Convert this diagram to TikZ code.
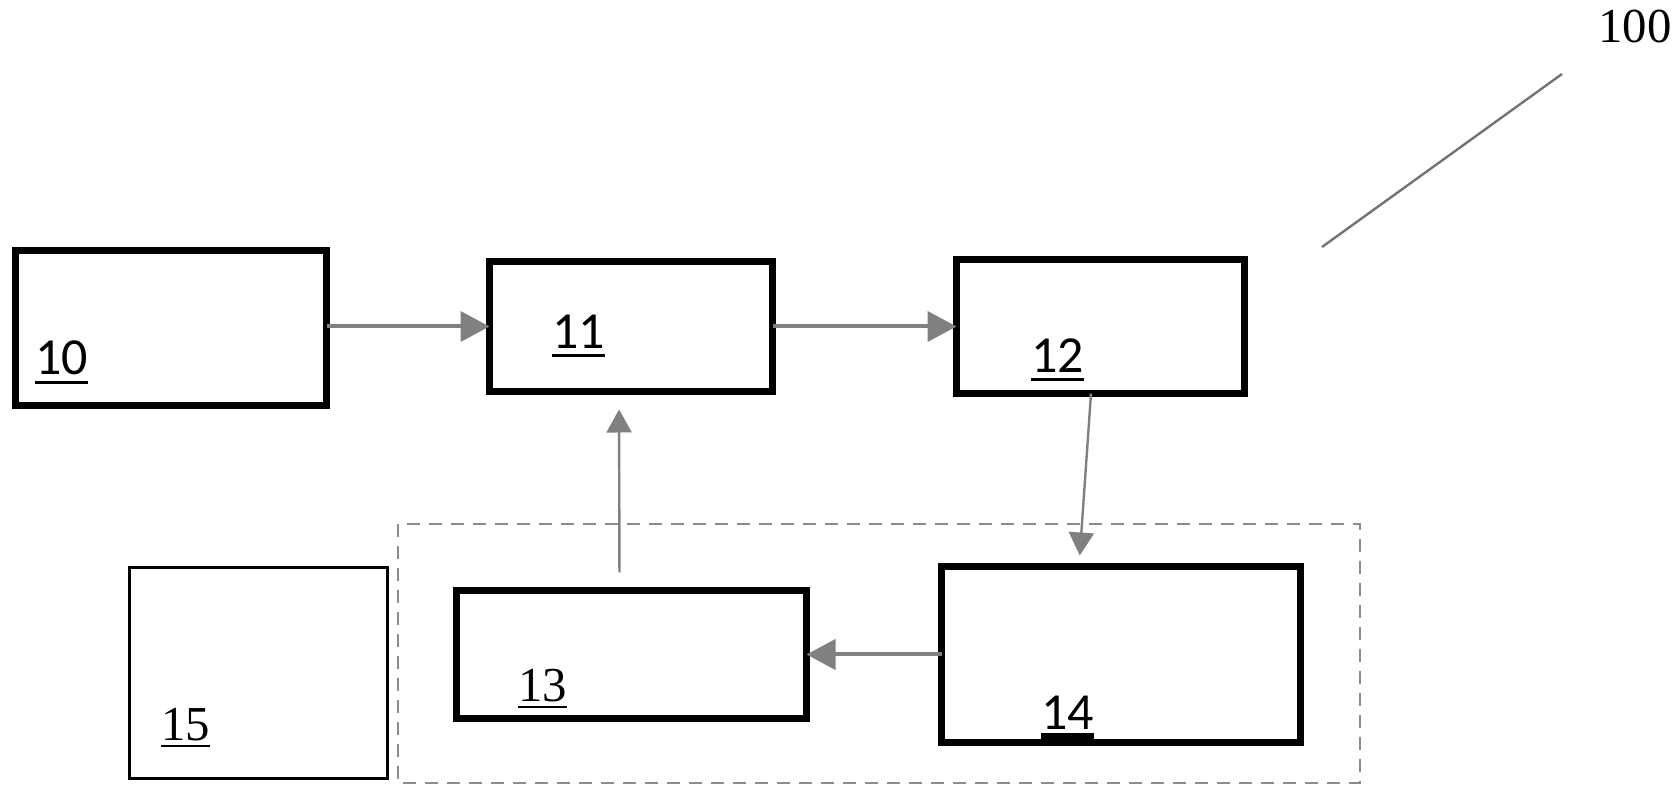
\documentclass[tikz,border=0pt]{standalone}
\usepackage{fontspec}
\setmainfont{Liberation Serif}
\newfontfamily\calibri{Carlito}
\usetikzlibrary{arrows.meta}
\definecolor{arrowgray}{HTML}{808080}
\definecolor{dashgray}{HTML}{8C8C8C}
% number with a rule under it: gap, rule thickness, text
\newcommand{\ulnum}[3]{\vtop{\hbox{#3}\kern#1\hrule height #2}}
\tikzset{
  block/.style={draw, line width=3.5pt, inner sep=0pt, outer sep=0pt, anchor=north west},
  thinblock/.style={block, line width=1.5pt},
  bigarrow/.style={draw=arrowgray, line width=2pt, -{Triangle[length=14.5pt,width=15pt]}},
  thinarrow/.style={draw=arrowgray, line width=1.2pt, -{Triangle[length=11.5pt,width=12.5pt]}},
  lblsans/.style={inner sep=0pt, anchor=base west, font=\calibri\fontsize{26}{30}\selectfont},
  lblserif/.style={inner sep=0pt, anchor=base west, font=\fontsize{24.4}{28}\selectfont}
}
\begin{document}
\begin{tikzpicture}[x=0.5pt, y=-0.5pt]
  \useasboundingbox (0,0) rectangle (1677,795);
  % dashed group area
  \draw[dashgray, line width=1pt, dash pattern=on 6.5pt off 4.5pt]
        (398,524) rectangle (1360,783);
  % draw blocks
  \node[block, minimum width=155.5pt, minimum height=77.5pt] (b10) at (15.5,250.5) {};
  \node[block, minimum width=141.5pt, minimum height=65pt]   (b11) at (489.5,261.5) {};
  \node[block, minimum width=144pt,   minimum height=67pt]   (b12) at (956.5,259.5) {};
  \node[block, minimum width=175pt,   minimum height=64pt]   (b13) at (456.5,590.5) {};
  \node[block, minimum width=179.5pt, minimum height=88pt]   (b14) at (941.5,566.5) {};
  \node[thinblock, minimum width=129pt, minimum height=105.5pt] (b15) at (129.5,567.5) {};
  % labels
  \node[lblsans]  (l10) at (35,375)   {\ulnum{2.75pt}{1.5pt}{10}};
  \node[lblsans]  (l11) at (552,349)  {\ulnum{2.75pt}{1.5pt}{11}};
  \node[lblsans]  (l12) at (1031,373) {\ulnum{2.75pt}{1.5pt}{12}};
  \node[lblserif] (l13) at (518,702)  {\ulnum{2pt}{1pt}{13}};
  \node[lblsans]  (l14) at (1041,730) {\ulnum{1.5pt}{3pt}{14}};
  \node[lblserif] (l15) at (161,741)  {\ulnum{2pt}{1pt}{15}};
  \node[lblserif] (l100) at (1598,43) {100};
  % draw arrows
  \draw[bigarrow] (b10.east |- b11.west) -- (b11.west);
  \draw[bigarrow] (b11.east) -- (b12.west);
  \draw[thinarrow, shorten >=5.5pt]
        ([xshift=-4.75pt]b12.south) -- ([xshift=-21pt]b14.north);
  \draw[bigarrow] (b14.west) -- (b14.west -| b13.east);
  \draw[thinarrow, shorten <=9pt, shorten >=9pt]
        ([xshift=-6pt]b13.north) -- ([xshift=-6pt]b11.south);
  % leader line to 100
  \coordinate (lead1) at (1322,247);
  \coordinate (lead2) at (1562,74);
  \draw[draw=arrowgray!90!black, line width=1.2pt] (lead1) -- (lead2);
\end{tikzpicture}
\end{document}
